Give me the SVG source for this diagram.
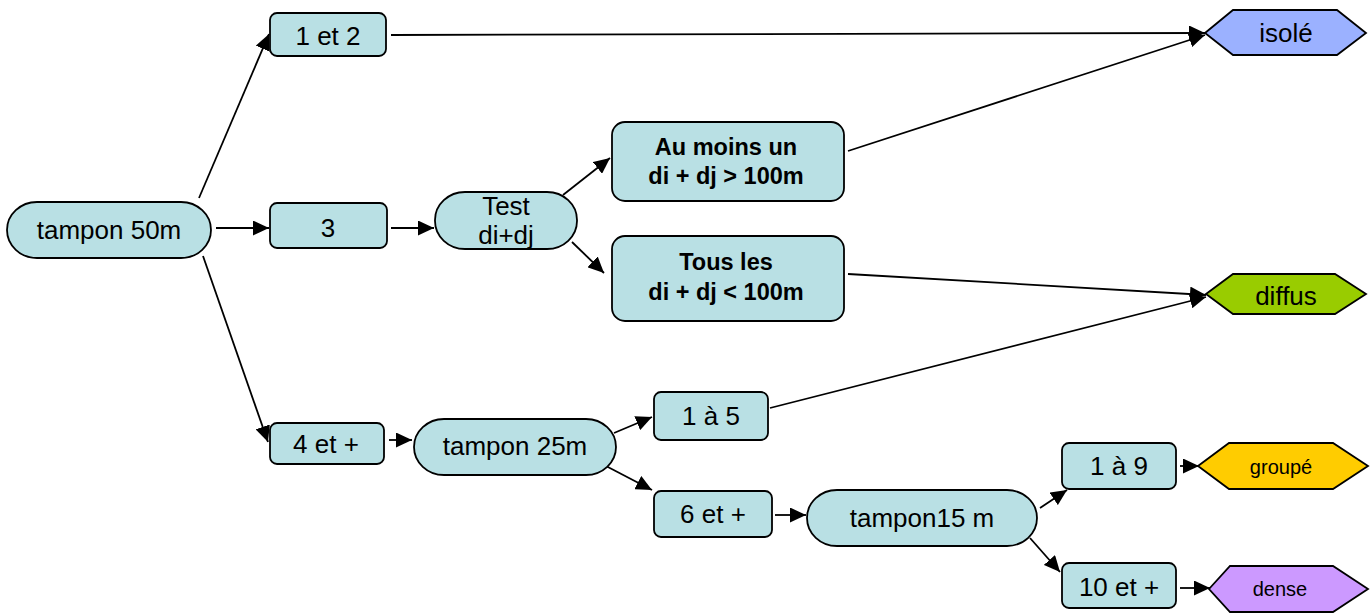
<svg xmlns="http://www.w3.org/2000/svg" width="1372" height="613" viewBox="0 0 1372 613">
<style>
.n{fill:#B9E0E4;stroke:#000;stroke-width:1.8}
.t{font-family:"Liberation Sans",Arial,sans-serif;font-size:26px;fill:#000;text-anchor:middle}
.b{font-family:"Liberation Sans",Arial,sans-serif;font-size:23.5px;font-weight:bold;fill:#000;text-anchor:middle}
.s{font-family:"Liberation Sans",Arial,sans-serif;font-size:20px;fill:#000;text-anchor:middle}
.h{stroke:#000;stroke-width:1.8}
.c{stroke:#000;stroke-width:1.8;fill:none;marker-end:url(#ar)}
</style>
<defs>
<marker id="ar" markerUnits="userSpaceOnUse" markerWidth="17" markerHeight="15" refX="16" refY="7.5" orient="auto">
<path d="M0,0 L16,7.5 L0,15 Z" fill="#000"/>
</marker>
</defs>
<rect width="1372" height="613" fill="#fff"/>
<g id="connectors">
<line class="c" x1="199" y1="198" x2="269" y2="34"/>
<line class="c" x1="216" y1="228" x2="269" y2="228"/>
<line class="c" x1="203" y1="256" x2="268" y2="442"/>
<line class="c" x1="391" y1="35" x2="1205" y2="33"/>
<line class="c" x1="391" y1="228" x2="434" y2="228"/>
<line class="c" x1="563" y1="195" x2="610" y2="158"/>
<line class="c" x1="572" y1="242" x2="604" y2="273"/>
<line class="c" x1="848" y1="151" x2="1205" y2="35"/>
<line class="c" x1="848" y1="274" x2="1206" y2="295"/>
<line class="c" x1="389" y1="440" x2="412" y2="440"/>
<line class="c" x1="614" y1="433" x2="652" y2="417"/>
<line class="c" x1="606" y1="466" x2="652" y2="490"/>
<line class="c" x1="770" y1="408" x2="1206" y2="297"/>
<line class="c" x1="775" y1="515" x2="806" y2="515"/>
<line class="c" x1="1040" y1="508" x2="1067" y2="490"/>
<line class="c" x1="1030" y1="538" x2="1060" y2="572"/>
<line class="c" x1="1180" y1="466" x2="1199" y2="466"/>
<line class="c" x1="1180" y1="588" x2="1210" y2="588"/>
</g>
<g id="tampon50"><rect class="n" x="7" y="202" width="204" height="56" rx="30" ry="28"/><text class="t" x="109" y="239">tampon 50m</text></g>
<g id="n12"><rect class="n" x="270" y="13" width="116" height="43" rx="7"/><text class="t" x="328" y="45">1 et 2</text></g>
<g id="n3"><rect class="n" x="270" y="203" width="117" height="45" rx="7"/><text class="t" x="328" y="237">3</text></g>
<g id="n4"><rect class="n" x="270" y="423" width="114" height="41" rx="7"/><text class="t" x="326" y="453">4 et +</text></g>
<g id="test"><rect class="n" x="435" y="192" width="142" height="57" rx="30" ry="28"/><text class="t" x="506" y="215">Test</text><text class="t" x="506" y="244">di+dj</text></g>
<g id="aumoins"><rect class="n" x="612" y="122" width="232" height="79" rx="13"/><text class="b" x="726" y="155">Au moins un</text><text class="b" x="726" y="184">di + dj &gt; 100m</text></g>
<g id="tous"><rect class="n" x="612" y="236" width="232" height="85" rx="13"/><text class="b" x="726" y="270">Tous les</text><text class="b" x="726" y="300">di + dj &lt; 100m</text></g>
<g id="tampon25"><rect class="n" x="414" y="419" width="202" height="56" rx="30" ry="28"/><text class="t" x="515" y="455">tampon 25m</text></g>
<g id="n15"><rect class="n" x="654" y="392" width="114" height="48" rx="7"/><text class="t" x="711" y="425">1 à 5</text></g>
<g id="n6"><rect class="n" x="654" y="491" width="118" height="46" rx="7"/><text class="t" x="713" y="523">6 et +</text></g>
<g id="tampon15"><rect class="n" x="807" y="490" width="230" height="56" rx="30" ry="28"/><text class="t" x="922" y="527">tampon15 m</text></g>
<g id="n19"><rect class="n" x="1062" y="443" width="114" height="46" rx="7"/><text class="t" x="1119" y="475">1 à 9</text></g>
<g id="n10"><rect class="n" x="1062" y="563" width="114" height="45" rx="7"/><text class="t" x="1119" y="596">10 et +</text></g>
<g id="isole"><polygon class="h" fill="#9BB1FF" points="1205,33 1233,10 1337,10 1366,33 1337,55 1233,55"/><text class="t" x="1286" y="42">isolé</text></g>
<g id="diffus"><polygon class="h" fill="#99CC00" points="1206,294 1233,274 1335,274 1366,294 1335,314 1233,314"/><text class="t" x="1286" y="305">diffus</text></g>
<g id="groupe"><polygon class="h" fill="#FFCC00" points="1198,466 1229,443 1333,443 1368,466 1333,489 1229,489"/><text class="s" x="1281" y="474">groupé</text></g>
<g id="dense"><polygon class="h" fill="#CC99FF" points="1209,589 1230,566 1333,566 1368,589 1333,612 1230,612"/><text class="s" x="1280" y="596">dense</text></g>
</svg>
